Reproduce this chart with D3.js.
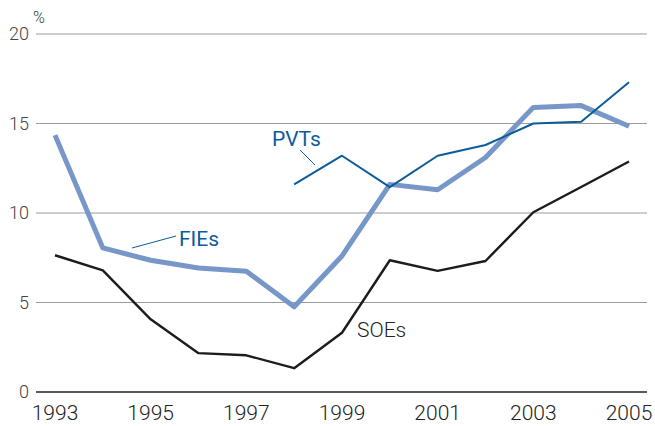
<!DOCTYPE html>
<html>
<head>
<meta charset="utf-8">
<script src="https://cdn.jsdelivr.net/npm/d3@7"></script>
<style>
  body { margin: 0; background: #fff; }
  svg text { font-family: Roboto, "Liberation Sans", sans-serif; }
</style>
</head>
<body>
<div id="chart"></div>
<script>
const years = [1993, 1994, 1995, 1996, 1997, 1998, 1999, 2000, 2001, 2002, 2003, 2004, 2005];
const fies = [14.35, 8.05, 7.36, 6.93, 6.75, 4.76, 7.6, 11.6, 11.3, 13.1, 15.9, 16.0, 14.85];
const pvts = [null, null, null, null, null, 11.6, 13.2, 11.45, 13.2, 13.8, 15.0, 15.1, 17.3];
const soes = [7.64, 6.79, 4.06, 2.17, 2.05, 1.33, 3.31, 7.36, 6.77, 7.32, 10.04, 11.45, 12.88];
const yTicks = [0, 5, 10, 15, 20];
const xTicks = [1993, 1995, 1997, 1999, 2001, 2003, 2005];

const width = 655, height = 426;
const svg = d3.select('#chart').append('svg')
  .attr('width', width)
  .attr('height', height);

const x = d3.scaleLinear().domain([1993, 2005]).range([55, 629]);
const y = d3.scaleLinear().domain([0, 20]).range([392, 34]);

// gridlines
svg.append('g')
  .selectAll('line')
  .data(yTicks.filter(d => d > 0))
  .join('line')
  .attr('x1', 36).attr('x2', 647)
  .attr('y1', d => y(d)).attr('y2', d => y(d))
  .attr('stroke', '#9c9c9c')
  .attr('stroke-width', 1.2);

svg.append('line')
  .attr('x1', 36).attr('x2', 647)
  .attr('y1', y(0)).attr('y2', y(0))
  .attr('stroke', '#222')
  .attr('stroke-width', 1.4);

// y labels
svg.append('g')
  .selectAll('text')
  .data(yTicks)
  .join('text')
  .attr('x', 29)
  .attr('y', d => y(d) + 6)
  .attr('text-anchor', 'end')
  .attr('font-size', 18)
  .attr('fill', '#444')
  .style('font-weight', 300)
  .text(d => d);

svg.append('text')
  .attr('x', 33).attr('y', 23)
  .attr('font-size', 16)
  .attr('fill', '#333')
  .style('font-weight', 300)
  .text('%');

// x labels
svg.append('g')
  .selectAll('text')
  .data(xTicks)
  .join('text')
  .attr('x', d => x(d))
  .attr('y', 420)
  .attr('text-anchor', 'middle')
  .attr('font-size', 21)
  .attr('fill', '#222')
  .style('font-weight', 300)
  .text(d => d);

const line = d3.line()
  .defined(d => d[1] != null)
  .x(d => x(d[0]))
  .y(d => y(d[1]));

const series = [
  { vals: soes, color: '#1c1c1c', w: 2.4 },
  { vals: fies, color: '#7697c8', w: 5 },
  { vals: pvts, color: '#0c5c9c', w: 2 }
];

svg.append('g')
  .selectAll('path')
  .data(series)
  .join('path')
  .attr('d', s => line(years.map((yr, i) => [yr, s.vals[i]])))
  .attr('fill', 'none')
  .attr('stroke', s => s.color)
  .attr('stroke-width', s => s.w)
  .attr('stroke-linejoin', 'round');

// labels with leaders
svg.append('line').attr('x1', 300).attr('y1', 150).attr('x2', 315).attr('y2', 165)
  .attr('stroke', '#0c5c9c').attr('stroke-width', 1);
svg.append('text').attr('x', 272).attr('y', 146)
  .attr('font-size', 21).attr('fill', '#0c5c9c').style('font-weight', 400).text('PVTs');

svg.append('line').attr('x1', 132).attr('y1', 248).attr('x2', 176).attr('y2', 236)
  .attr('stroke', '#0c5c9c').attr('stroke-width', 1);
svg.append('text').attr('x', 179).attr('y', 246)
  .attr('font-size', 21).attr('fill', '#0c5c9c').style('font-weight', 400).text('FIEs');

svg.append('text').attr('x', 357).attr('y', 337)
  .attr('font-size', 21).attr('fill', '#222').style('font-weight', 300).text('SOEs');
</script>
</body>
</html>
